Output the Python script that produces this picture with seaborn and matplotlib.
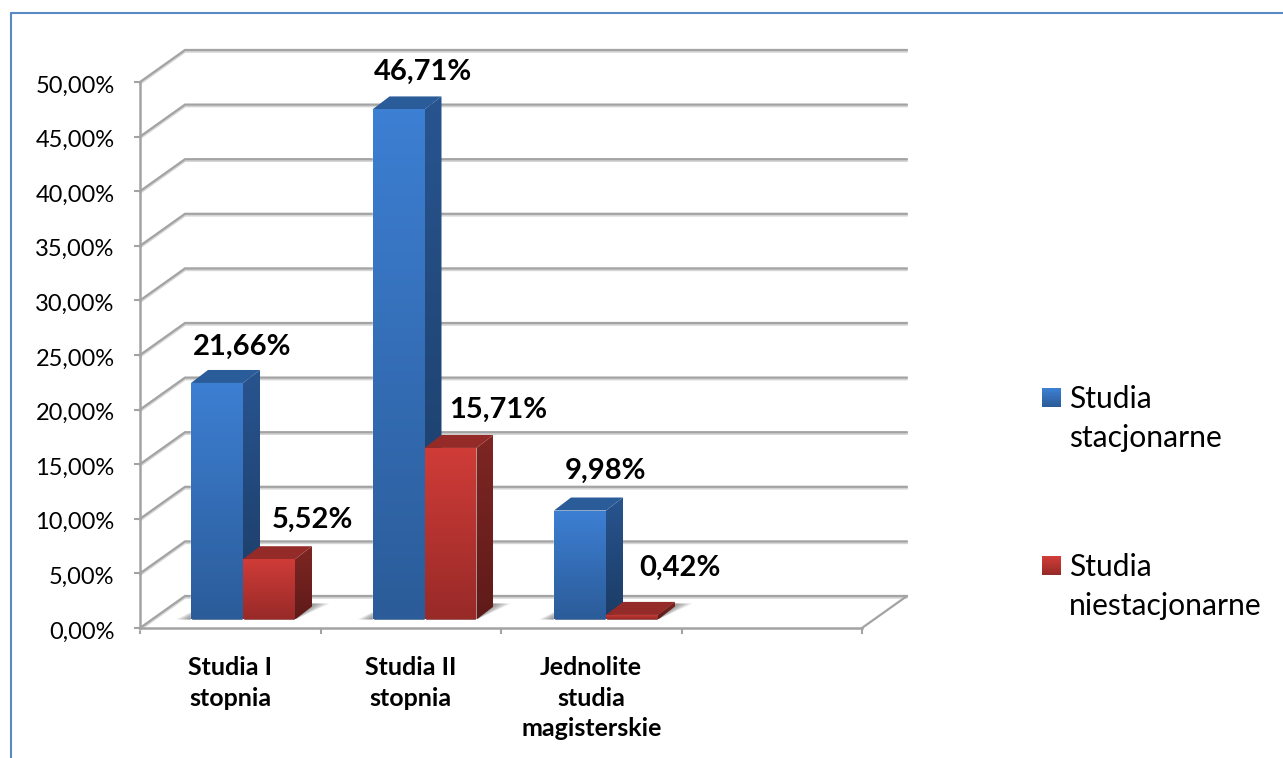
import numpy as np
import pandas as pd
import matplotlib
matplotlib.use("Agg")
import matplotlib.pyplot as plt
import matplotlib.patheffects as pe
from matplotlib.colors import LinearSegmentedColormap
from matplotlib.legend_handler import HandlerBase
from matplotlib.lines import Line2D
from matplotlib.patches import Polygon, Rectangle
from matplotlib.transforms import ScaledTranslation
import seaborn as sns

# ---------- data ----------
categories = ["Studia I\nstopnia", "Studia II\nstopnia", "Jednolite\nstudia\nmagisterskie"]
series_names = ["Studia\nstacjonarne", "Studia\nniestacjonarne"]
stacjonarne = [21.66, 46.71, 9.98]
niestacjonarne = [5.52, 15.71, 0.42]
y_ticks = [0, 5, 10, 15, 20, 25, 30, 35, 40, 45, 50]

# ---------- style ----------
W, H = 1283, 758
GRAY = "#a3a3a3"
sns.set_theme(style="white")
plt.rcParams["font.family"] = ["Lato", "DejaVu Sans"]

STYLE = {
    series_names[0]: dict(front=("#3d7fd3", "#2b5c99"), side=("#28548f", "#1b3c65"), top="#2b5c9a"),
    series_names[1]: dict(front=("#d03c38", "#982a28"), side=("#7e2623", "#5f1b19"), top="#952b28"),
}
label_lift = {21.66: 36, 46.71: 38, 9.98: 40, 5.52: 39, 15.71: 38, 0.42: 47}
label_shift = {21.66: 25, 46.71: 24, 9.98: 25, 5.52: 43, 15.71: 48, 0.42: 48}

def ax_px(fig, x0, x1, y_bottom, y_top):
    return fig.add_axes([x0 / W, (H - y_bottom) / H, (x1 - x0) / W, (y_bottom - y_top) / H])

fig = plt.figure(figsize=(W / 100, H / 100), dpi=100, facecolor="white")

# outer frame of the picture
fig.add_artist(Line2D([11 / W, 11 / W], [0, 1 - 13 / H], color="#5a8ac6", lw=1.5))
fig.add_artist(Line2D([11 / W, 1], [1 - 13 / H, 1 - 13 / H], color="#5a8ac6", lw=1.5))

# ---------- walls ----------
wall = ax_px(fig, 140, 862, 628, 82)
wall.set_xlim(0, 4)
wall.set_ylim(0, 50)
wall.patch.set_alpha(0)
px_x, px_y = 4 / 722, 50 / 546
deep_x, deep_y = 45 * px_x, 32 * px_y
shadow = [pe.SimpleLineShadow(offset=(0, -1.2), shadow_color="#d5d5d5", alpha=1), pe.Normal()]
for v in y_ticks:
    wall.plot([0, deep_x, 4 + deep_x], [v, v + deep_y, v + deep_y], color=GRAY, lw=1.6,
              clip_on=False, zorder=1, path_effects=shadow, solid_joinstyle="miter")
wall.plot([4, 4 + deep_x], [0, deep_y], color=GRAY, lw=1.6, clip_on=False, zorder=1)

for s in ("top", "right"):
    wall.spines[s].set_visible(False)
for s in ("left", "bottom"):
    wall.spines[s].set_color(GRAY)
    wall.spines[s].set_linewidth(1.8)
wall.set_yticks(y_ticks)
wall.set_yticklabels([f"{v},00%" for v in y_ticks], fontsize=17, color="black")
wall.set_xticks([0, 1, 2, 3, 4])
wall.set_xticklabels([])
wall.tick_params(axis="both", which="major", color=GRAY, width=1.5, left=True, bottom=True,
                 length=4.5)
wall.tick_params(axis="y", pad=13.8)
nudge = ScaledTranslation(0, -2 / 100, fig.dpi_scale_trans)
for lab in wall.get_yticklabels():
    lab.set_transform(lab.get_transform() + nudge)
wall.set_xticks([0.5, 1.5, 2.5], minor=True)
wall.set_xticklabels(categories, minor=True, fontsize=18, fontweight="bold", color="black",
                     linespacing=1.37)
wall.tick_params(axis="x", which="minor", length=0, pad=20.5)

# ---------- bars ----------
df = pd.DataFrame({
    "kategoria": categories * 2,
    "seria": [series_names[0]] * 3 + [series_names[1]] * 3,
    "wartosc": stacjonarne + niestacjonarne,
})
barax = ax_px(fig, 152.25, 878.25, 619.5, 73.5)
barax.patch.set_alpha(0)
sns.barplot(data=df, x="kategoria", y="wartosc", hue="seria", order=categories + [" "],
            hue_order=series_names, width=0.573, gap=0, dodge=True, legend=False,
            palette=[STYLE[n]["top"] for n in series_names], ax=barax, zorder=3)
barax.set_xlim(-0.5, 3.5)
barax.set_ylim(0, 50)
barax.axis("off")

bpx_x = 4 / 726
bar_dx, bar_dy = 17 * bpx_x, 13 * px_y


def gradient(ax, poly, c_top, c_bottom, z):
    xy = np.asarray(poly)
    cmap = LinearSegmentedColormap.from_list("g", [c_top, c_bottom])
    grad = np.linspace(0, 1, 128).reshape(-1, 1)
    im = ax.imshow(grad, cmap=cmap, aspect="auto", origin="upper", interpolation="bilinear",
                   extent=[xy[:, 0].min(), xy[:, 0].max(), xy[:, 1].min(), xy[:, 1].max()],
                   zorder=z)
    clip = Polygon(xy, closed=True, transform=ax.transData)
    im.set_clip_path(clip)


z = 4.0
bars = []
for name, cont in zip(series_names, barax.containers):
    for b in cont:
        if np.isfinite(b.get_height()) and b.get_height() > 0:
            bars.append((name, b))

# soft floor shadow
for name, b in bars:
    x0, x1 = b.get_x(), b.get_x() + b.get_width()
    for k in range(7):
        grow = (7 - k) * 2.5 * bpx_x
        barax.add_patch(Polygon(
            [(x0 - grow * 0.85, 0), (x1, 0), (x1 + bar_dx + grow, bar_dy + 3 * px_y),
             (x0 + bar_dx, bar_dy + 3 * px_y)],
            closed=True, facecolor="#404040", alpha=0.1, edgecolor="none", zorder=2))

for name, b in bars:
    st = STYLE[name]
    x0, x1, h = b.get_x(), b.get_x() + b.get_width(), b.get_height()
    side = [(x1, 0), (x1, h), (x1 + bar_dx, h + bar_dy), (x1 + bar_dx, bar_dy)]
    gradient(barax, side, *st["side"], z)
    barax.add_patch(Polygon([(x0, h), (x1, h), (x1 + bar_dx, h + bar_dy), (x0 + bar_dx, h + bar_dy)],
                            closed=True, facecolor=st["top"], edgecolor="none", zorder=z + 0.1))
    gradient(barax, [(x0, 0), (x1, 0), (x1, h), (x0, h)], *st["front"], z + 0.2)
    z += 1
    # value label
    key = round(h, 2)
    barax.annotate(f"{h:.2f}%".replace(".", ","), (b.get_x() + b.get_width() / 2, h),
                   xytext=(label_shift[key] * 0.72, label_lift[key] * 0.72), textcoords="offset points",
                   ha="center", va="center", fontsize=21, fontweight="bold", color="black",
                   zorder=50, annotation_clip=False)
barax.set_xlim(-0.5, 3.5)
barax.set_ylim(0, 50)


# ---------- legend ----------
class GradientHandle(HandlerBase):
    def __init__(self, colors, rise):
        super().__init__()
        self.colors, self.rise = colors, rise

    def create_artists(self, legend, orig, xdescent, ydescent, width, height, fontsize, trans):
        cmap = LinearSegmentedColormap.from_list("g", self.colors)
        n = 14
        size = 13.5
        out = []
        for i in range(n):
            out.append(Rectangle((width - size, self.rise + size * (n - 1 - i) / n), size, size / n + 0.1,
                                 facecolor=cmap(i / (n - 1)), edgecolor="none", transform=trans))
        return out


handles = [Rectangle((0, 0), 1, 1, color=STYLE[n]["front"][0]) for n in series_names]
leg = fig.legend(
    handles, series_names, loc="upper left", bbox_to_anchor=(1031 / W, 1 - 385 / H),
    frameon=False, fontsize=21.6, labelspacing=3.37, handlelength=1.0, handletextpad=0.27,
    borderpad=0, borderaxespad=0,
    handler_map={handles[i]: GradientHandle(STYLE[n]["front"], 16.5) for i, n in enumerate(series_names)},
)
for t in leg.get_texts():
    t.set_linespacing(1.47)
    t.set_color("black")

fig.savefig("out.png", dpi=100, facecolor="white")
